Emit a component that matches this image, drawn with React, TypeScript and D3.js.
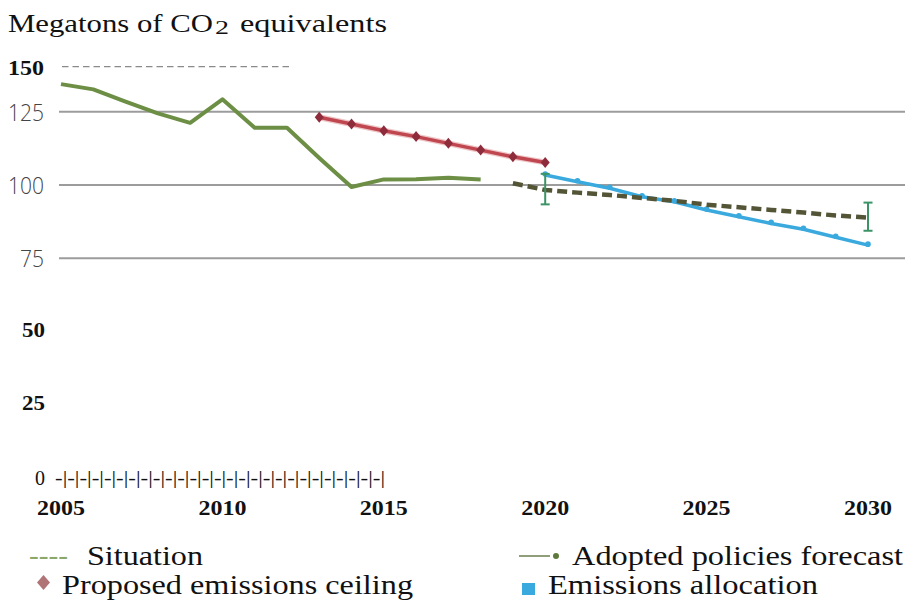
import React from 'react';
import * as d3 from 'd3';

// ---- data ----
const historyYears = [2005, 2006, 2007, 2008, 2009, 2010, 2011, 2012, 2013, 2014, 2015, 2016, 2017, 2018];
const historyValues = [134.4, 132.6, 128.4, 124.4, 121.2, 129.2, 119.5, 119.5, 109.2, 99.3, 101.9, 102.0, 102.5, 101.9];

const ceilingYears = [2013, 2014, 2015, 2016, 2017, 2018, 2019, 2020];
const ceilingValues = [123.1, 120.8, 118.5, 116.5, 114.2, 111.9, 109.6, 107.7];

const forecastYears = [2019, 2020, 2021, 2022, 2023, 2024, 2025, 2026, 2027, 2028, 2029, 2030];
const forecastValues = [100.6, 98.3, 97.4, 96.6, 95.6, 94.6, 93.3, 92.4, 91.5, 90.6, 89.6, 88.9];

const allocationYears = [2020, 2021, 2022, 2023, 2024, 2025, 2026, 2027, 2028, 2029, 2030];
const allocationValues = [103.4, 101.1, 98.9, 96.0, 94.3, 91.5, 89.2, 86.9, 84.9, 82.2, 79.5];

const errorYears = [2020, 2030];
const errorLow = [93.4, 84.4];
const errorHigh = [103.8, 94.0];

const xTickYears = [2005, 2010, 2015, 2020, 2025, 2030];
const gridValues = [75, 100, 125];
const boldTickValues = [25, 50];
const zeroTick = 0;
const topTick = 150;

const titleParts = ['Megatons of CO', '2', 'equivalents'];
const legendLabels = ['Situation', 'Adopted policies forecast', 'Proposed emissions ceiling', 'Emissions allocation'];

const serif: React.CSSProperties = { fontFamily: 'Liberation Serif, Times New Roman, serif' };
const sans: React.CSSProperties = { fontFamily: 'Open Sans, Noto Sans, sans-serif' };

export default function App() {
  const x = d3.scaleLinear().domain([2005, 2030]).range([61, 868]);
  const y = d3.scaleLinear().domain([0, 150]).range([478.3, 38.35]);

  const line = d3
    .line<[number, number]>()
    .x((d) => x(d[0]))
    .y((d) => y(d[1]));

  const hist = historyYears.map((yr, i) => [yr, historyValues[i]] as [number, number]);
  const ceil = ceilingYears.map((yr, i) => [yr, ceilingValues[i]] as [number, number]);
  const fore = forecastYears.map((yr, i) => [yr, forecastValues[i]] as [number, number]);
  const alloc = allocationYears.map((yr, i) => [yr, allocationValues[i]] as [number, number]);

  const tickString = '-|'.repeat(27);

  return (
    <svg
      width={905}
      height={602}
      style={{ position: 'absolute', left: 0, top: 0, background: '#fff' }}
    >
      {/* title */}
      <text x={8} y={32} style={serif} fontSize={26} fill="#111" textLength={205} lengthAdjust="spacingAndGlyphs">
        {titleParts[0]}
      </text>
      <text x={215} y={33.5} style={serif} fontSize={18} fill="#111" textLength={14} lengthAdjust="spacingAndGlyphs">
        {titleParts[1]}
      </text>
      <text x={240} y={32} style={serif} fontSize={26} fill="#111" textLength={147} lengthAdjust="spacingAndGlyphs">
        {titleParts[2]}
      </text>

      {/* top reference tick (150) */}
      <text x={44} y={75} textAnchor="end" style={serif} fontWeight="bold" fontSize={22} fill="#111" textLength={36} lengthAdjust="spacingAndGlyphs">
        {topTick}
      </text>
      <line x1={62} x2={290} y1={66.7} y2={66.7} stroke="#8a8a8a" strokeWidth={1.3} strokeDasharray="6.5,4" />

      {/* gridlines + sans labels */}
      {gridValues.map((v) => (
        <g key={v}>
          <line x1={59} x2={905} y1={y(v)} y2={y(v)} stroke="#9c9c9c" strokeWidth={2} />
          <text
            x={44}
            y={y(v) + 9}
            textAnchor="end"
            style={sans}
            fontWeight={300}
            fontSize={23}
            fill="#444"
            textLength={String(v).length * 12}
            lengthAdjust="spacingAndGlyphs"
          >
            {v}
          </text>
        </g>
      ))}

      {/* bold serif labels */}
      {boldTickValues.map((v) => (
        <text key={v} x={45} y={y(v) + 5.5} textAnchor="end" style={serif} fontWeight="bold" fontSize={22} fill="#111" textLength={23} lengthAdjust="spacingAndGlyphs">
          {v}
        </text>
      ))}

      {/* zero label + tick string */}
      <text x={45} y={y(zeroTick) + 6.5} textAnchor="end" style={serif} fontSize={20} fill="#111">
        {zeroTick}
      </text>
      <text x={55} y={y(zeroTick) + 6} style={serif} fontSize={19} fill="#111" textLength={330} lengthAdjust="spacingAndGlyphs">
        {tickString}
      </text>

      {/* x labels */}
      {xTickYears.map((yr) => (
        <text key={yr} x={x(yr)} y={515} textAnchor="middle" style={serif} fontWeight="bold" fontSize={22} fill="#111" textLength={48} lengthAdjust="spacingAndGlyphs">
          {yr}
        </text>
      ))}

      {/* history line */}
      <path d={line(hist) || ''} fill="none" stroke="#6d8f45" strokeWidth={4} strokeLinejoin="round" />

      {/* ceiling line */}
      <path d={line(ceil) || ''} fill="none" stroke="#e3a0a3" strokeWidth={6} strokeLinejoin="round" opacity={0.6} />
      <path d={line(ceil) || ''} fill="none" stroke="#c0474f" strokeWidth={3.5} strokeLinejoin="round" />
      {ceil.map((d, i) => {
        const cx = x(d[0]);
        const cy = y(d[1]);
        return (
          <path key={i} d={`M${cx},${cy - 5.5}L${cx + 4.5},${cy}L${cx},${cy + 5.5}L${cx - 4.5},${cy}Z`} fill="#8e2c3c" />
        );
      })}

      {/* allocation line */}
      <path d={line(alloc) || ''} fill="none" stroke="#3aa9dd" strokeWidth={3.5} strokeLinejoin="round" />
      {alloc.map((d, i) => (
        <circle key={i} cx={x(d[0])} cy={y(d[1]) - 1} r={2.8} fill="#3aa9dd" />
      ))}

      {/* forecast dashed line */}
      <path d={line(fore) || ''} fill="none" stroke="#535536" strokeWidth={4.5} strokeDasharray="10,5" />

      {/* error bars */}
      {errorYears.map((yr, i) => {
        const cx = x(yr);
        const y1 = y(errorHigh[i]);
        const y2 = y(errorLow[i]);
        return (
          <g key={yr} stroke="#3c9466" strokeWidth={2}>
            <line x1={cx} x2={cx} y1={y1} y2={y2} />
            <line x1={cx - 4.5} x2={cx + 4.5} y1={y1} y2={y1} />
            <line x1={cx - 4.5} x2={cx + 4.5} y1={y2} y2={y2} />
          </g>
        );
      })}

      {/* legend */}
      <text x={29} y={564} style={serif} fontSize={28} fill="#8aa86a" textLength={39} lengthAdjust="spacingAndGlyphs">
        ----
      </text>
      <text x={87} y={565} style={serif} fontSize={28} fill="#111" textLength={116} lengthAdjust="spacingAndGlyphs">
        {legendLabels[0]}
      </text>

      <line x1={519} x2={550} y1={556} y2={556} stroke="#6b7f4d" strokeWidth={1.5} />
      <circle cx={556} cy={556} r={3} fill="#5d7a3c" />
      <text x={572} y={565} style={serif} fontSize={28} fill="#111" textLength={331} lengthAdjust="spacingAndGlyphs">
        {legendLabels[1]}
      </text>

      <path d="M43.5,575L50,582.5L43.5,590L37,582.5Z" fill="#b07476" />
      <text x={62} y={594} style={serif} fontSize={28} fill="#111" textLength={351} lengthAdjust="spacingAndGlyphs">
        {legendLabels[2]}
      </text>

      <rect x={522} y={583} width={13} height={12} fill="#3aa9dd" />
      <text x={548} y={594} style={serif} fontSize={28} fill="#111" textLength={270} lengthAdjust="spacingAndGlyphs">
        {legendLabels[3]}
      </text>
    </svg>
  );
}
